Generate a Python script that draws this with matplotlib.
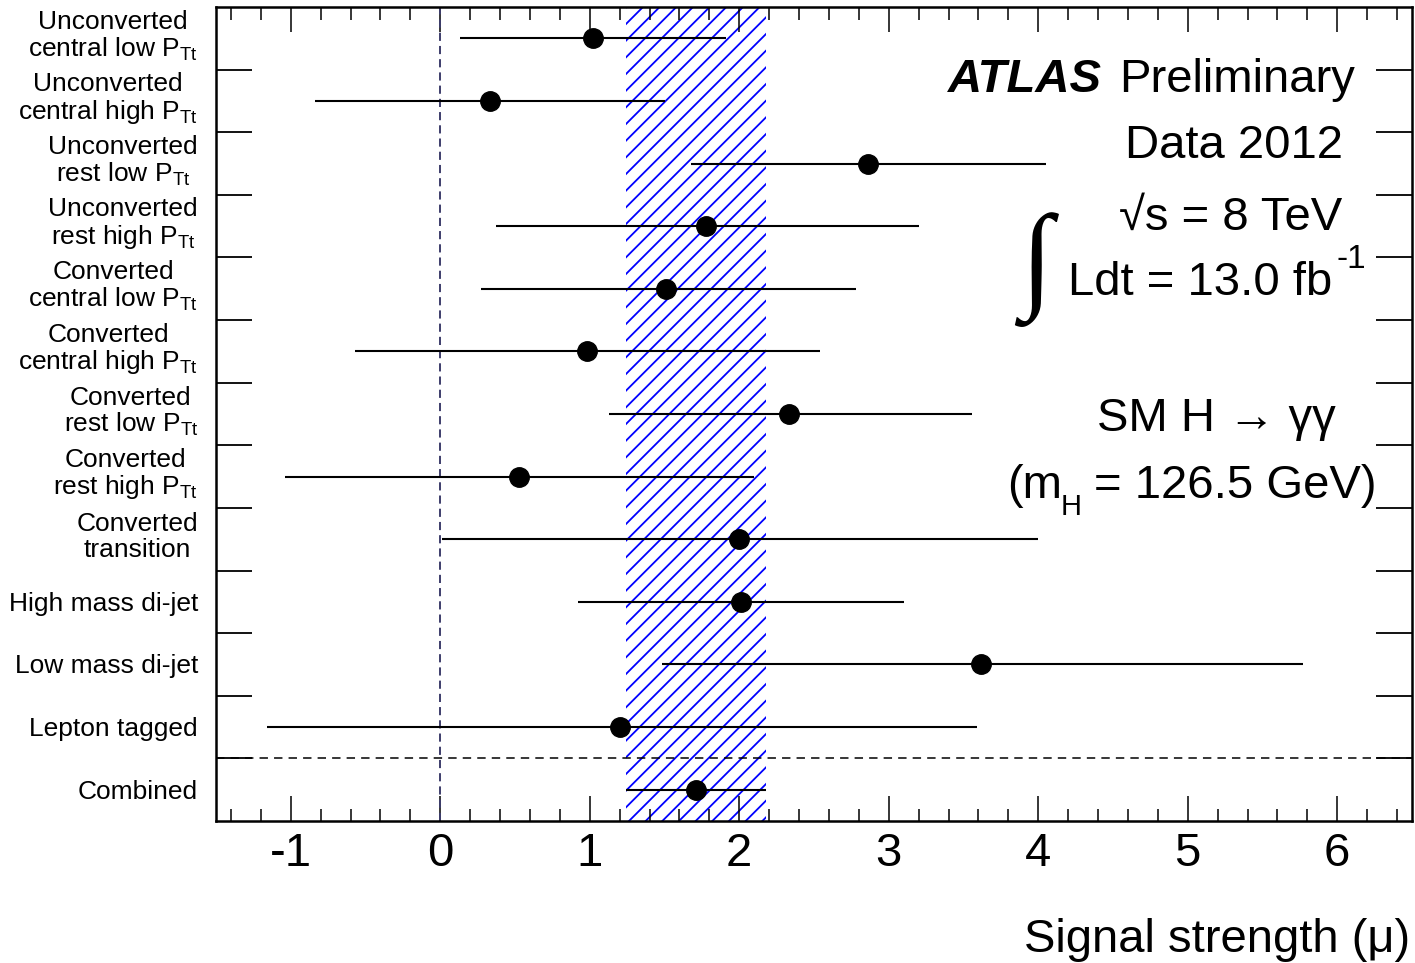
import numpy as np
import matplotlib
matplotlib.use("Agg")
import matplotlib.pyplot as plt
import matplotlib.transforms as mtransforms
from matplotlib.ticker import MultipleLocator, FixedLocator

plt.rcParams["font.family"] = ["Liberation Sans", "DejaVu Sans"]
plt.rcParams["mathtext.fontset"] = "custom"
plt.rcParams["mathtext.rm"] = "Liberation Sans"
plt.rcParams["mathtext.it"] = "Liberation Sans:italic"
plt.rcParams["mathtext.bf"] = "Liberation Sans:bold"
plt.rcParams["hatch.linewidth"] = 1.3

# Categories (top to bottom) and fitted signal strengths with +-1 sigma range
categories = [
    "Unconverted\ncentral low P$_{\\mathrm{Tt}}$",
    "Unconverted\ncentral high P$_{\\mathrm{Tt}}$",
    "Unconverted\nrest low P$_{\\mathrm{Tt}}$",
    "Unconverted\nrest high P$_{\\mathrm{Tt}}$",
    "Converted\ncentral low P$_{\\mathrm{Tt}}$",
    "Converted\ncentral high P$_{\\mathrm{Tt}}$",
    "Converted\nrest low P$_{\\mathrm{Tt}}$",
    "Converted\nrest high P$_{\\mathrm{Tt}}$",
    "Converted\ntransition",
    "High mass di-jet",
    "Low mass di-jet",
    "Lepton tagged",
    "Combined",
]
mu = np.array([1.02, 0.33, 2.86, 1.78, 1.51, 0.98, 2.33, 0.53, 2.00, 2.01, 3.62, 1.20, 1.71])
mu_low = np.array([0.13, -0.84, 1.68, 0.37, 0.27, -0.57, 1.13, -1.04, 0.01, 0.92, 1.48, -1.16, 1.24])
mu_high = np.array([1.91, 1.50, 4.05, 3.20, 2.78, 2.54, 3.56, 2.10, 4.00, 3.10, 5.77, 3.59, 2.18])

x_ticks = [-1, 0, 1, 2, 3, 4, 5, 6]

W, H = 1415, 963
fig = plt.figure(figsize=(W / 100, H / 100), dpi=100)
ax = fig.add_axes([216 / W, 1 - 821 / H, (1412 - 216) / W, (821 - 7) / H])

n = len(categories)
ypos = np.arange(n) + 0.5
ax.set_xlim(-1.5, 6.5)
ax.set_ylim(n, 0)

# combined result band
ax.axvspan(mu_low[-1], mu_high[-1], facecolor="none", edgecolor=(0, 0, 1),
           hatch="//", linewidth=0, zorder=1)
# mu = 0 reference line
ax.axvline(0, color="#3d3d6b", lw=1.4, ls=(0, (4.2, 2.6)), zorder=2)
# separator above the combined entry
ax.axhline(n - 1, color="black", lw=1.1, ls=(0, (5.5, 4.0)), zorder=2)

ax.errorbar(mu, ypos, xerr=[mu - mu_low, mu_high - mu], fmt="o", color="black",
            ms=14, elinewidth=1.5, capsize=0, zorder=3)

# x axis ticks
ax.set_xticks(x_ticks)
ax.set_xticklabels([str(t) for t in x_ticks])
ax.xaxis.set_minor_locator(MultipleLocator(0.2))
ax.tick_params(axis="x", which="both", direction="in", top=True, bottom=True,
               labelsize=34, pad=8)
ax.tick_params(axis="x", which="major", length=18, width=1.1)
ax.tick_params(axis="x", which="minor", length=9, width=1.1)

# y axis: ticks at row boundaries, category names centred on each row
ax.set_yticks([])
ax.yaxis.set_minor_locator(FixedLocator(np.arange(1, n)))
ax.tick_params(axis="y", which="minor", direction="in", length=26, width=1.3,
               left=True, right=True)

label_tr = ax.get_yaxis_transform()
for y, name in zip(ypos, categories):
    dy = 2 / 100 if "\n" in name else -2 / 100
    tr = label_tr + mtransforms.ScaledTranslation(-18 / 100, dy, fig.dpi_scale_trans)
    ax.text(0, y, name, transform=tr, fontsize=19, ha="right", va="center",
            multialignment="center", linespacing=1.08, clip_on=False)

for sp in ax.spines.values():
    sp.set_linewidth(1.8)


def fpos(x, y):
    return x / W, 1 - y / H


fs = 34
fig.text(*fpos(1102, 92), "ATLAS", fontsize=fs, fontweight="bold", fontstyle="italic",
         ha="right", va="baseline")
fig.text(*fpos(1119, 92), "Preliminary", fontsize=fs, ha="left", va="baseline")
fig.text(*fpos(1343, 158), "Data 2012", fontsize=fs, ha="right", va="baseline")
fig.text(*fpos(1342, 230), "\u221as = 8 TeV", fontsize=fs, ha="right", va="baseline")
fig.text(*fpos(1332, 295), "Ldt = 13.0 fb", fontsize=fs, ha="right", va="baseline")
fig.text(*fpos(1336, 268), "-1", fontsize=24, ha="left", va="baseline")
fig.text(*fpos(1036, 270), "\u222b", fontsize=84, family=["Liberation Serif", "DejaVu Serif"],
         ha="center", va="center")
fig.text(*fpos(1097, 431), "SM H \u2192 \u03b3\u03b3", fontsize=fs, ha="left", va="baseline")
fig.text(*fpos(1007, 498), "(m", fontsize=fs, ha="left", va="baseline")
fig.text(*fpos(1061, 515), "H", fontsize=21, ha="left", va="baseline")
fig.text(*fpos(1094, 498), "= 126.5 GeV)", fontsize=fs, ha="left", va="baseline")
fig.text(*fpos(1410, 952), "Signal strength (\u03bc)", fontsize=fs, ha="right",
         va="baseline")

fig.savefig("out.png", dpi=100)
